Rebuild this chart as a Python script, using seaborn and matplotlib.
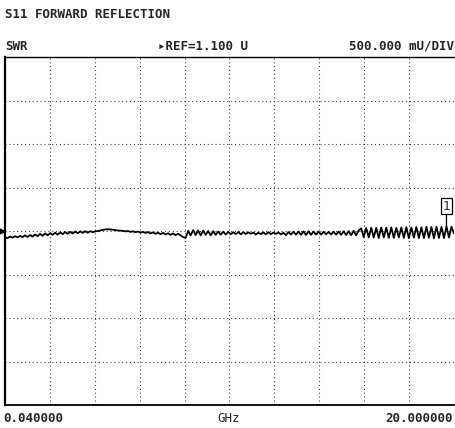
import numpy as np
import matplotlib
matplotlib.use("Agg")
import matplotlib.pyplot as plt
import seaborn as sns

# sweep setup
F_START, F_STOP = 0.04, 20.0   # GHz
REF_VAL = 1.1                  # U
PER_DIV = 0.5                  # U/div
N_XDIV, N_YDIV, REF_POS = 10, 8, 4

# SWR trace (180 sweep points)
swr = [
    1.030, 1.018, 1.036, 1.024, 1.040, 1.026, 1.044, 1.030, 1.050, 1.032,
    1.054, 1.036, 1.060, 1.040, 1.068, 1.044, 1.072, 1.050, 1.076, 1.056,
    1.080, 1.058, 1.084, 1.064, 1.088, 1.068, 1.090, 1.072, 1.094, 1.074,
    1.096, 1.078, 1.098, 1.080, 1.098, 1.086, 1.096,
    1.100, 1.106, 1.112, 1.118, 1.120, 1.118, 1.114, 1.110, 1.106, 1.104,
    1.102, 1.096, 1.100, 1.090, 1.096, 1.086, 1.094, 1.082, 1.090, 1.078,
    1.088, 1.072, 1.084, 1.068, 1.080, 1.064, 1.078, 1.060, 1.074, 1.056,
    1.072, 1.052, 1.068, 1.050,
    1.030, 1.020, 1.100, 1.050, 1.110, 1.054, 1.106, 1.050, 1.104, 1.056,
    1.100, 1.050, 1.098, 1.056, 1.094, 1.058, 1.092, 1.060, 1.090, 1.064,
    1.086, 1.064, 1.088, 1.062, 1.086, 1.066, 1.084, 1.068, 1.082, 1.060,
    1.080, 1.064, 1.084, 1.062, 1.086, 1.064, 1.082, 1.066, 1.084, 1.062,
    1.080, 1.052, 1.088, 1.060, 1.092, 1.058, 1.094, 1.056, 1.096, 1.054,
    1.096, 1.056, 1.094, 1.058, 1.092, 1.060, 1.090, 1.062, 1.090, 1.060,
    1.092, 1.058, 1.094, 1.056, 1.096, 1.054, 1.098, 1.052, 1.102, 1.050, 1.106,
    1.130, 1.030, 1.134, 1.026, 1.138, 1.024, 1.136, 1.020, 1.140, 1.026,
    1.138, 1.022, 1.142, 1.020, 1.136, 1.026, 1.140, 1.022, 1.144, 1.018,
    1.140, 1.024, 1.146, 1.020, 1.142, 1.018, 1.148, 1.022, 1.146, 1.016,
    1.150, 1.020, 1.148, 1.018, 1.152, 1.024, 1.150, 1.070,
]
freq = np.linspace(F_START, F_STOP, len(swr))
MARKER_IDX = 176
MARKER_LABEL = "1"

sns.set_style("white")
plt.rcParams["font.family"] = ["DejaVu Sans Mono", "DejaVu Sans"]
FS = 9

fig = plt.figure(figsize=(4.55, 4.28), dpi=100)
ax = fig.add_axes([5 / 455, 1 - 405 / 428, 449 / 455, 348 / 428])

sns.lineplot(x=freq, y=swr, ax=ax, color="black", lw=1.3)

y_lo = REF_VAL - REF_POS * PER_DIV
y_hi = REF_VAL + (N_YDIV - REF_POS) * PER_DIV
ax.set_xlim(F_START, F_STOP)
ax.set_ylim(y_lo, y_hi)
ax.set_xticks(np.linspace(F_START, F_STOP, N_XDIV + 1)[1:-1])
ax.set_yticks(np.linspace(y_lo, y_hi, N_YDIV + 1)[1:-1])
ax.set_xticklabels([])
ax.set_yticklabels([])
ax.tick_params(length=0)
ax.grid(True, linestyle=(0, (1, 2.5)), color="#444444", lw=0.8)
ax.set_xlabel("")
ax.set_ylabel("")
for s in ["left", "bottom", "top"]:
    ax.spines[s].set_color("black")
ax.spines["left"].set_linewidth(1.6)
ax.spines["bottom"].set_linewidth(1.3)
ax.spines["top"].set_linewidth(1.0)
ax.spines["right"].set_visible(False)

# reference arrow on the left edge
ax.plot([-0.007], [REF_VAL], marker=">", ms=3.5, color="black",
        transform=ax.get_yaxis_transform(), clip_on=False)

# marker 1
ax.annotate(MARKER_LABEL, xy=(freq[MARKER_IDX], swr[MARKER_IDX]),
            xytext=(0, 10), textcoords="offset points", ha="center", va="bottom",
            fontsize=9, bbox=dict(boxstyle="square,pad=0.12", fc="white", ec="black", lw=0.9),
            arrowprops=dict(arrowstyle="-", color="black", lw=0.9, shrinkA=0, shrinkB=0))

# screen annotations
fig.text(5 / 455, 1 - 14 / 428, "S11 FORWARD REFLECTION", fontsize=FS, fontweight="bold",
         ha="left", va="center")
fig.text(5 / 455, 1 - 46 / 428, "SWR", fontsize=FS, fontweight="bold", ha="left", va="center")
fig.text(158 / 455, 1 - 46 / 428, "▸REF=1.100 U", fontsize=FS, fontweight="bold",
         ha="left", va="center")
fig.text(454 / 455, 1 - 46 / 428, "500.000 mU/DIV", fontsize=FS, fontweight="bold",
         ha="right", va="center")
fig.text(3 / 455, 1 - 418 / 428, "0.040000", fontsize=FS, fontweight="bold",
         ha="left", va="center")
fig.text(229 / 455, 1 - 418 / 428, "GHz", fontsize=FS, ha="center", va="center")
fig.text(453 / 455, 1 - 418 / 428, "20.000000", fontsize=FS, fontweight="bold",
         ha="right", va="center")

fig.savefig("out.png", dpi=100)
